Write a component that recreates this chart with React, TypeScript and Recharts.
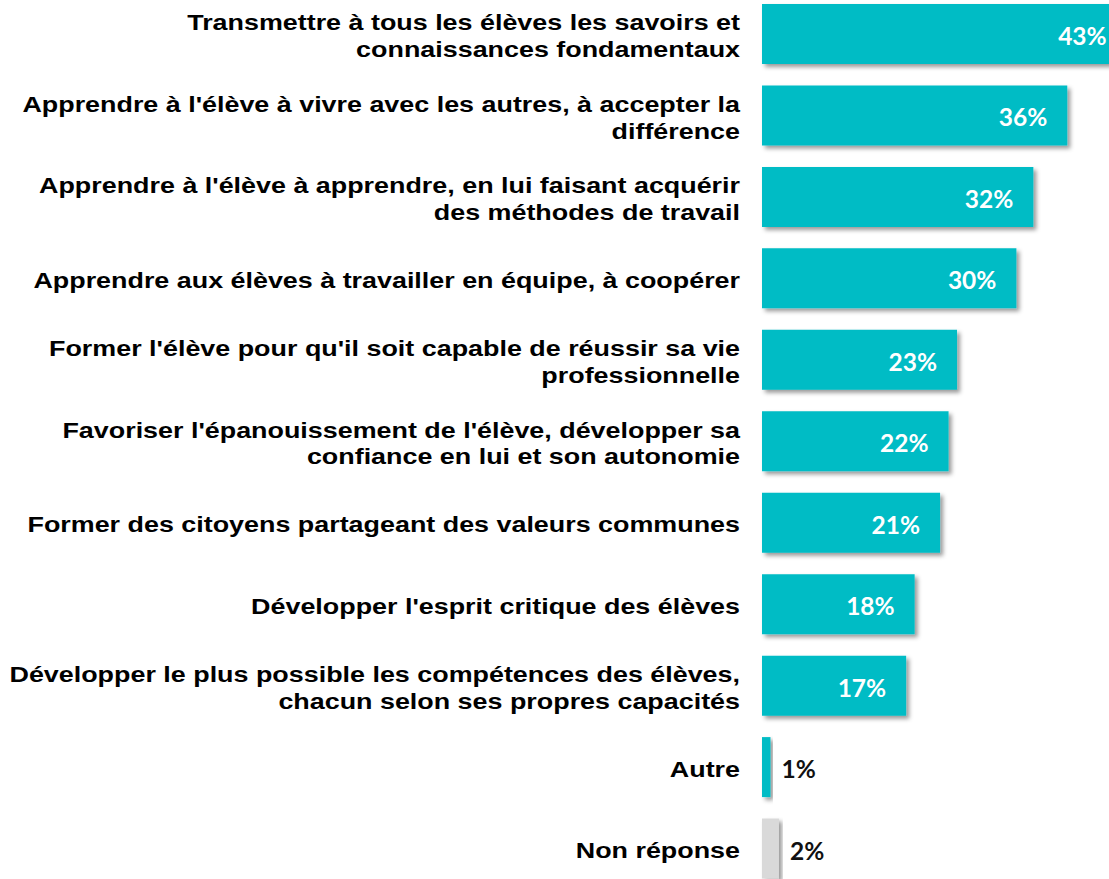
import { BarChart, Bar, XAxis, YAxis, Cell, LabelList } from 'recharts';

const categories = [
  "Transmettre à tous les élèves les savoirs et\nconnaissances fondamentaux",
  "Apprendre à l'élève à vivre avec les autres, à accepter la\ndifférence",
  "Apprendre à l'élève à apprendre, en lui faisant acquérir\ndes méthodes de travail",
  "Apprendre aux élèves à travailler en équipe, à coopérer",
  "Former l'élève pour qu'il soit capable de réussir sa vie\nprofessionnelle",
  "Favoriser l'épanouissement de l'élève, développer sa\nconfiance en lui et son autonomie",
  "Former des citoyens partageant des valeurs communes",
  "Développer l'esprit critique des élèves",
  "Développer le plus possible les compétences des élèves,\nchacun selon ses propres capacités",
  "Autre",
  "Non réponse",
];

const values = [43, 36, 32, 30, 23, 22, 21, 18, 17, 1, 2];

const barColors = [
  '#00bcc5', '#00bcc5', '#00bcc5', '#00bcc5', '#00bcc5', '#00bcc5',
  '#00bcc5', '#00bcc5', '#00bcc5', '#00bcc5', '#d9d9d9',
];

const chartData = categories.map((name, i) => ({ name, value: values[i] }));

// labels in the source look squashed vertically, so scale them a bit
const SY = 0.82;

function CategoryTick({ x, y, payload }: any) {
  const lines = String(payload.value).split('\n');
  const lh = 27;
  const first = 10 - ((lines.length - 1) * lh) / 2;
  return (
    <g transform={`translate(${x - 22},${y}) scale(1,${SY})`}>
      <text
        x={0}
        y={first / SY}
        textAnchor="end"
        fill="#000"
        fontFamily='"Liberation Sans", Arial, sans-serif'
        fontWeight={700}
        fontSize={26.9}
      >
        {lines.map((l, i) => (
          <tspan key={i} x={0} y={(first + i * lh) / SY}>{l}</tspan>
        ))}
      </text>
    </g>
  );
}

function ValueLabel({ x, y, width, height, value }: any) {
  const inside = value >= 10;
  const cy = y + height / 2 + 11;
  return (
    <text
      x={inside ? x + width - 20 : x + width + 11}
      y={cy}
      textAnchor={inside ? 'end' : 'start'}
      fill={inside ? '#fff' : '#111'}
      fontFamily='Lato, "Open Sans", sans-serif'
      fontWeight={700}
      fontSize={24.5}
    >
      {value}%
    </text>
  );
}

export default function App() {
  return (
    <div style={{ position: 'fixed', top: 0, left: 0, width: 1109, height: 879, overflow: 'hidden', background: '#fff' }}>
      <div style={{ position: 'absolute', top: -7, left: 0 }}>
        <BarChart
          width={1186}
          height={896}
          data={chartData}
          layout="vertical"
          margin={{ top: 0, right: 0, bottom: 0, left: 0 }}
          barSize={60}
        >
          <defs>
            <filter id="barShadow" x="-10%" y="-20%" width="130%" height="160%">
              <feDropShadow dx="3" dy="3" stdDeviation="2" floodColor="#000" floodOpacity="0.4" />
            </filter>
          </defs>
          <XAxis type="number" domain={[0, 50]} hide />
          <YAxis
            type="category"
            dataKey="name"
            width={762}
            axisLine={false}
            tickLine={false}
            tickSize={0}
            tickMargin={0}
            interval={0}
            tick={<CategoryTick />}
          />
          <Bar dataKey="value" isAnimationActive={false}>
            {chartData.map((d, i) => (
              <Cell key={d.name} fill={barColors[i]} filter="url(#barShadow)" />
            ))}
            <LabelList dataKey="value" content={<ValueLabel />} />
          </Bar>
        </BarChart>
      </div>
    </div>
  );
}
